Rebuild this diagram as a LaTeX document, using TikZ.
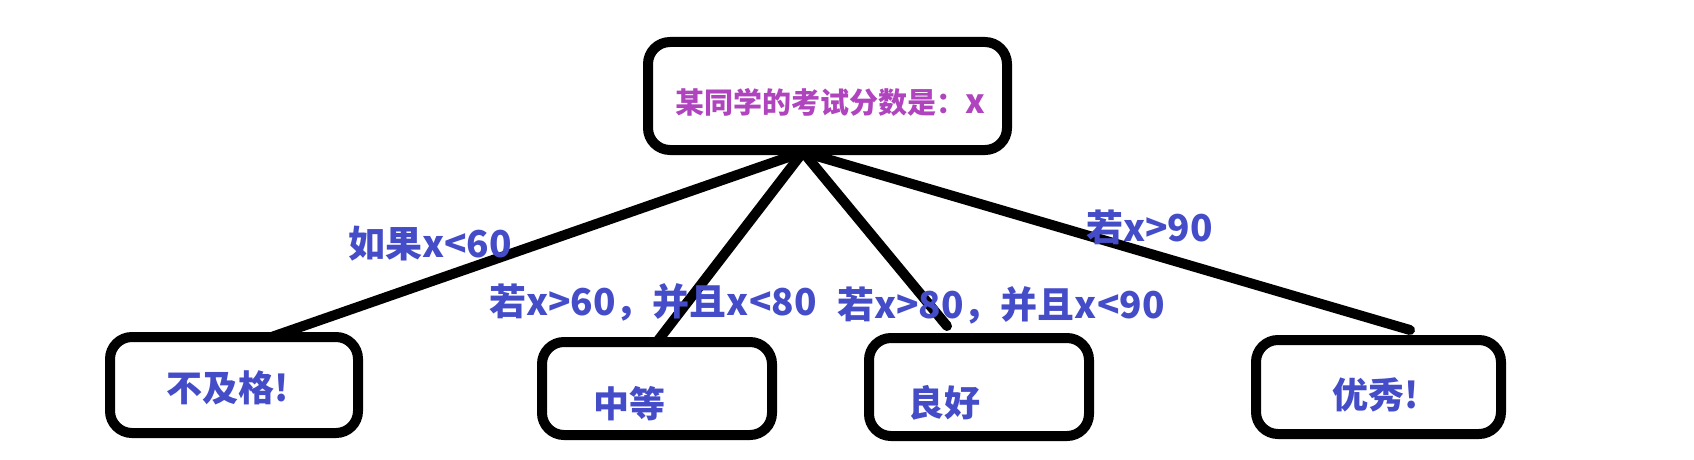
\documentclass[tikz,border=0pt]{standalone}
\usepackage{fontspec}
\newfontfamily\cjk{Noto Sans CJK SC}
\definecolor{lblblue}{RGB}{68,76,200}
\definecolor{toppurple}{RGB}{176,68,190}
\usetikzlibrary{backgrounds}
\begin{document}
\begin{tikzpicture}[x=1pt,y=-1pt,
  box/.style={draw=black, line width=10pt, rounded corners=22pt, fill=white, inner sep=0pt},
  conn/.style={line width=10pt, line cap=round},
  lbl/.style={text=lblblue, font=\cjk\bfseries\fontsize{37}{37}\selectfont, inner sep=0pt, anchor=west},
  boxtxt/.style={text=lblblue, font=\cjk\bfseries\fontsize{36}{36}\selectfont, inner sep=0pt},
  toptxt/.style={text=toppurple, font=\cjk\bfseries\fontsize{29}{29}\selectfont, inner sep=0pt, anchor=west}]
\useasboundingbox (0,0) rectangle (1694,460);
% boxes
\node[box, minimum width=359pt, minimum height=108pt] (top) at (827.5,96) {};
\node[box, minimum width=248pt, minimum height=96pt] (b1) at (234,385) {};
\node[box, minimum width=230pt, minimum height=93pt] (b2) at (657,388.5) {};
\node[box, minimum width=220pt, minimum height=98pt] (b3) at (979,387) {};
\node[box, minimum width=245pt, minimum height=94pt] (b4) at (1378.5,387) {};
% texts
\node[toptxt] (ttop) at (675,102) {某同学的考试分数是：{\fontsize{33}{33}\selectfont x}};
\node[boxtxt] (t1) at (228,388) {不及格!};
\node[boxtxt] (t2) at (629,404) {中等};
\node[boxtxt] (t3) at (944,403) {良好};
\node[boxtxt] (t4) at (1376,395) {优秀!};
% connectors
\coordinate (apex) at (803,152);
\coordinate (e1) at (263,340);
\coordinate (e2) at (653,347);
\coordinate (e3) at (947,326);
\coordinate (e4) at (1410,330);
\begin{pgfonlayer}{background}
\fill[white] (0,0) rectangle (1694,460);
\draw[conn] (apex) -- (e1);
\draw[conn] (apex) -- (e2);
\draw[conn] (apex) -- (e3);
\draw[conn] (apex) -- (e4);
\end{pgfonlayer}
% labels
\node[lbl] (l1) at (348,244) {如果x<60};
\node[lbl] (l2) at (489,302) {若x>60，并且x<80};
\node[lbl] (l3) at (837,305) {若x>80，并且x<90};
\node[lbl] (l4) at (1086,227) {若x>90};
\end{tikzpicture}
\end{document}
